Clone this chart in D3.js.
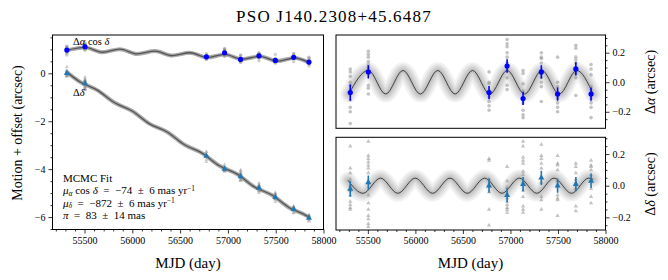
<!DOCTYPE html>
<html>
<head>
<meta charset="utf-8">
<script src="https://cdn.jsdelivr.net/npm/d3@7"></script>
<style>
  body { margin: 0; background: #fff; }
  text { font-family: "Liberation Serif", "DejaVu Serif", serif; fill: #000; }
</style>
</head>
<body>
<div class="root"></div>
<script>
// observation epochs (MJD)
var epochs = [55315, 55505, 56775, 56965, 57133, 57325, 57496, 57688, 57848];

// left panel: motion + offset (arcsec)
var raCos = [0.97, 1.11, 0.69, 0.86, 0.58, 0.73, 0.54, 0.67, 0.47];
var decOff = [0.0, -0.42, -3.45, -3.99, -4.31, -4.79, -5.17, -5.67, -6.04];

// right panels: parallax residuals, epoch means and errors
var raRes = [-0.07, 0.07, -0.07, 0.11, -0.11, 0.07, -0.08, 0.09, -0.08];
var raErr = [0.055, 0.045, 0.045, 0.045, 0.045, 0.045, 0.045, 0.045, 0.045];
var decRes = [-0.02, 0.02, 0.0, -0.06, 0.01, 0.05, 0.0, 0.01, 0.03];
var decErr = [0.05, 0.045, 0.045, 0.045, 0.045, 0.045, 0.045, 0.045, 0.045];

// single detections per epoch
var raSingle = [
  [0.09, 0.07, 0.04, 0.0, -0.02, -0.06, -0.12, -0.17, -0.2, -0.28],
  [0.21, 0.19, 0.17, 0.14, 0.12, 0.10, -0.02, -0.04, -0.08],
  [0.07, 0.0, -0.01, -0.06, -0.10, -0.13, -0.16, -0.19],
  [0.29, 0.26, 0.24, 0.20, 0.17, 0.13, 0.03, -0.02, -0.05],
  [0.08, 0.06, -0.01, -0.06, -0.14, -0.19, -0.22, -0.24],
  [0.20, 0.17, 0.16, 0.13, 0.06, 0.03, 0.0, -0.03, -0.13],
  [0.17, 0.0, -0.03, -0.07, -0.11, -0.14, -0.17, -0.20],
  [0.25, 0.23, 0.17, 0.15, 0.13, 0.06, 0.03, -0.09],
  [0.12, 0.09, 0.05, -0.03, -0.05, -0.11, -0.14, -0.17, -0.24]
];
var decSingle = [
  [0.25, 0.11, 0.08, 0.04, 0.0, -0.03, -0.06, -0.10, -0.12, -0.14, -0.15],
  [0.28, 0.19, 0.17, 0.15, 0.13, 0.11, 0.08, -0.06, -0.11, -0.15, -0.19, -0.21, -0.24, -0.26],
  [0.17, 0.16, 0.04, 0.0, -0.04, -0.15, -0.25],
  [0.12, 0.03, -0.01, -0.05, -0.08, -0.10, -0.12, -0.14, -0.15, -0.17],
  [0.28, 0.25, 0.18, 0.16, 0.14, 0.09, 0.07, 0.02, -0.03, -0.07, -0.13, -0.15, -0.17],
  [0.26, 0.19, 0.17, 0.14, 0.11, 0.02, -0.07, -0.09, -0.15],
  [0.19, 0.14, 0.13, 0.10, 0.03, -0.06, -0.08, -0.09, -0.19],
  [0.14, 0.12, 0.08, 0.04, 0.02, -0.02, -0.13, -0.16],
  [0.16, 0.13, 0.12, 0.10, 0.07, 0.03, -0.02, -0.07, -0.11]
];

// fitted model, read at its turning points
var raFitT = [55315, 55505, 55688, 55870, 56053, 56236, 56418, 56601, 56784, 56966, 57149, 57331, 57514, 57697, 57848];
var raFitV = [0.96, 1.08, 0.88, 1.01, 0.81, 0.93, 0.74, 0.86, 0.66, 0.79, 0.59, 0.71, 0.51, 0.64, 0.45];
var decFitT = [55315, 55450, 55633, 55816, 55998, 56181, 56364, 56546, 56729, 56911, 57094, 57277, 57459, 57642, 57824, 57848];
var decFitV = [0.05, -0.35, -0.70, -1.23, -1.57, -2.11, -2.45, -2.98, -3.33, -3.86, -4.20, -4.74, -5.08, -5.61, -5.95, -6.01];
var raParT = [55300, 55505, 55688, 55870, 56053, 56236, 56418, 56601, 56784, 56966, 57149, 57331, 57514, 57697, 57870];
var raParV = [-0.08, 0.08, -0.08, 0.08, -0.08, 0.08, -0.08, 0.08, -0.08, 0.08, -0.08, 0.08, -0.08, 0.08, -0.08];
var decParT = [55290, 55450, 55633, 55816, 55998, 56181, 56364, 56546, 56729, 56911, 57094, 57277, 57459, 57642, 57824, 57870];
var decParV = [0.035, -0.048, 0.048, -0.048, 0.048, -0.048, 0.048, -0.048, 0.048, -0.048, 0.048, -0.048, 0.048, -0.048, 0.048, 0.04];

var xMajor = [55500, 56000, 56500, 57000, 57500, 58000];
var yLeftMajor = [-6, -4, -2, 0];
var yRightMajor = [-0.2, 0.0, 0.2];

var BLUE = '#0000ff', TAB = '#1f77b4';
var SP = '\u2002';  // wide space, like TeX around = and ±

function runChart() {
  var svg = d3.select('.root').append('svg')
    .attr('width', 668)
    .attr('height', 280);

  var xL = d3.scaleLinear().domain([55165, 58000]).range([52.5, 323.5]);
  var yL = d3.scaleLinear().domain([-6.52, 1.6]).range([229.5, 35]);
  var xR = d3.scaleLinear().domain([55165, 58000]).range([336, 605.5]);
  var yA = d3.scaleLinear().domain([-0.312, 0.32]).range([128.3, 35]);
  var yD = d3.scaleLinear().domain([-0.28, 0.306]).range([230, 137.3]);

  var xMinor = d3.range(55200, 58001, 100).filter(function(d) { return xMajor.indexOf(d) < 0; });

  function zip(t, v) { return t.map(function(d, i) { return [d, v[i]]; }); }

  function line(x, y) {
    return d3.line()
      .x(function(d) { return x(d[0]); })
      .y(function(d) { return y(d[1]); })
      .curve(d3.curveMonotoneX);
  }

  function tickAxis(g, axisFn, scale, vals, len, fmt) {
    var a = axisFn(scale).tickValues(vals).tickSize(len).tickSizeOuter(0).tickPadding(3);
    a.tickFormat(fmt || function() { return ''; });
    g.call(a);
    g.select('.domain').remove();
    g.selectAll('line').attr('stroke', '#000').attr('stroke-width', 0.8);
    g.selectAll('text').attr('fill', '#000').style('font-size', '10px')
      .style('font-family', '"Liberation Serif", serif');
  }

  function frame(x, y) {
    svg.append('rect')
      .attr('x', x.range()[0]).attr('y', y.range()[1])
      .attr('width', x.range()[1] - x.range()[0])
      .attr('height', y.range()[0] - y.range()[1])
      .attr('fill', 'none').attr('stroke', '#000').attr('stroke-width', 1);
  }

  function clip(id, x, y) {
    svg.append('clipPath').attr('id', id).append('rect')
      .attr('x', x.range()[0]).attr('y', y.range()[1])
      .attr('width', x.range()[1] - x.range()[0])
      .attr('height', y.range()[0] - y.range()[1]);
    return svg.append('g').attr('clip-path', 'url(#' + id + ')');
  }

  function rich(g, x, y, size, parts) {
    var t = g.append('text').attr('x', x).attr('y', y).style('font-size', size + 'px');
    parts.forEach(function(p) {
      var s = t.append('tspan').text(p.t);
      if (p.i) s.style('font-style', 'italic');
      if (p.s) s.style('font-size', p.s + 'px');
      if (p.dy) s.attr('dy', p.dy);
    });
    return t;
  }

  // ---------- left panel ----------
  var gl = clip('clipL', xL, yL);

  [[raFitT, raFitV], [decFitT, decFitV]].forEach(function(m) {
    var pts = zip(m[0], m[1]);
    gl.append('path').datum(pts).attr('d', line(xL, yL))
      .attr('fill', 'none').attr('stroke', '#aaa').attr('stroke-width', 4);
    gl.append('path').datum(pts).attr('d', line(xL, yL))
      .attr('fill', 'none').attr('stroke', '#555').attr('stroke-width', 1.3);
  });

  epochs.forEach(function(t, i) {
    raSingle[i].forEach(function(v) {
      gl.append('circle').attr('cx', xL(t)).attr('cy', yL(raCos[i] + v - raRes[i]))
        .attr('r', 1.7).attr('fill', '#888').attr('opacity', 0.4);
    });
    decSingle[i].forEach(function(v) {
      gl.append('path').attr('d', d3.symbol(d3.symbolTriangle, 7)())
        .attr('transform', 'translate(' + xL(t) + ',' + yL(decOff[i] + v - decRes[i]) + ')')
        .attr('fill', '#888').attr('opacity', 0.4);
    });
  });

  gl.selectAll('circle.pa').data(epochs).enter().append('circle')
    .attr('cx', function(d) { return xL(d); })
    .attr('cy', function(d, i) { return yL(raCos[i]); })
    .attr('r', 2.6).attr('fill', BLUE);
  gl.selectAll('path.pd').data(epochs).enter().append('path')
    .attr('d', d3.symbol(d3.symbolTriangle, 16)())
    .attr('transform', function(d, i) { return 'translate(' + xL(d) + ',' + yL(decOff[i]) + ')'; })
    .attr('fill', TAB);

  frame(xL, yL);
  tickAxis(svg.append('g').attr('transform', 'translate(0,229.5)'), d3.axisBottom, xL, xMajor, 4, d3.format('d'));
  tickAxis(svg.append('g').attr('transform', 'translate(0,229.5)'), d3.axisBottom, xL, xMinor, 2);
  tickAxis(svg.append('g').attr('transform', 'translate(52.5,0)'), d3.axisLeft, yL, yLeftMajor, 4, d3.format('d'));
  tickAxis(svg.append('g').attr('transform', 'translate(52.5,0)'), d3.axisLeft, yL,
    d3.range(-6.5, 1.6, 0.5).filter(function(d) { return d % 2 !== 0; }), 2);

  rich(svg, 73, 45, 10.5, [{t: 'Δ'}, {t: 'α', i: 1}, {t: ' cos '}, {t: 'δ', i: 1}]);
  rich(svg, 73, 96, 10.5, [{t: 'Δ'}, {t: 'δ', i: 1}]);

  var info = svg.append('g');
  rich(info, 63, 181.5, 11, [{t: 'MCMC Fit'}]);
  rich(info, 63, 194, 11, [{t: 'μ', i: 1}, {t: 'α', i: 1, s: 7.5, dy: 1.5}, {t: ' cos ', dy: -1.5}, {t: 'δ', i: 1},
    {t: SP + '=' + SP + '−74' + SP + '±' + SP + '6 mas yr'}, {t: '−1', s: 7.5, dy: -3.5}]);
  rich(info, 63, 206.5, 11, [{t: 'μ', i: 1}, {t: 'δ', i: 1, s: 7.5, dy: 1.5},
    {t: SP + '=' + SP + '−872' + SP + '±' + SP + '6 mas yr', dy: -1.5}, {t: '−1', s: 7.5, dy: -3.5}]);
  rich(info, 63, 219, 11, [{t: 'π', i: 1}, {t: SP + '=' + SP + '83' + SP + '±' + SP + '14 mas'}]);

  // ---------- right panels ----------
  function residualPanel(id, y, parT, parV, single, mean, err, color, tri) {
    var g = clip(id, xR, y);
    var pts = zip(parT, parV);
    [17, 13, 9.5, 6.5, 3.5].forEach(function(w) {
      g.append('path').datum(pts).attr('d', line(xR, y))
        .attr('fill', 'none').attr('stroke', '#000').attr('stroke-width', w)
        .attr('stroke-opacity', 0.05).attr('stroke-linecap', 'round');
    });
    g.append('path').datum(pts).attr('d', line(xR, y))
      .attr('fill', 'none').attr('stroke', '#222').attr('stroke-width', 1)
      .attr('stroke-opacity', 0.8);

    epochs.forEach(function(t, i) {
      single[i].forEach(function(v) {
        if (tri) {
          g.append('path').attr('d', d3.symbol(d3.symbolTriangle, 8)())
            .attr('transform', 'translate(' + xR(t) + ',' + y(v) + ')')
            .attr('fill', '#888').attr('opacity', 0.5);
        } else {
          g.append('circle').attr('cx', xR(t)).attr('cy', y(v))
            .attr('r', 1.8).attr('fill', '#888').attr('opacity', 0.5);
        }
      });
    });

    g.selectAll('line.err').data(epochs).enter().append('line')
      .attr('x1', function(d) { return xR(d); }).attr('x2', function(d) { return xR(d); })
      .attr('y1', function(d, i) { return y(mean[i] - err[i]); })
      .attr('y2', function(d, i) { return y(mean[i] + err[i]); })
      .attr('stroke', color).attr('stroke-width', 1.6);
    if (tri) {
      g.selectAll('path.mk').data(epochs).enter().append('path')
        .attr('d', d3.symbol(d3.symbolTriangle, 16)())
        .attr('transform', function(d, i) { return 'translate(' + xR(d) + ',' + y(mean[i]) + ')'; })
        .attr('fill', color);
    } else {
      g.selectAll('circle.mk').data(epochs).enter().append('circle')
        .attr('cx', function(d) { return xR(d); })
        .attr('cy', function(d, i) { return y(mean[i]); })
        .attr('r', 2.6).attr('fill', color);
    }

    frame(xR, y);
    tickAxis(svg.append('g').attr('transform', 'translate(605.5,0)'), d3.axisRight, y, yRightMajor, 4, d3.format('.1f'));
    tickAxis(svg.append('g').attr('transform', 'translate(605.5,0)'), d3.axisRight, y,
      [-0.25, -0.15, -0.1, -0.05, 0.05, 0.1, 0.15, 0.25, 0.3].filter(function(d) {
        return d >= y.domain()[0] && d <= y.domain()[1];
      }), 2);
  }

  residualPanel('clipA', yA, raParT, raParV, raSingle, raRes, raErr, BLUE, false);
  residualPanel('clipD', yD, decParT, decParV, decSingle, decRes, decErr, TAB, true);

  tickAxis(svg.append('g').attr('transform', 'translate(0,230)'), d3.axisBottom, xR, xMajor, 4, d3.format('d'));
  tickAxis(svg.append('g').attr('transform', 'translate(0,230)'), d3.axisBottom, xR, xMinor, 2);

  // ---------- labels ----------
  svg.append('text').attr('x', 334).attr('y', 21.5).attr('text-anchor', 'middle')
    .style('font-size', '17px').style('letter-spacing', '1.2px').text('PSO J140.2308+45.6487');

  svg.append('text').attr('x', 188).attr('y', 268).attr('text-anchor', 'middle')
    .style('font-size', '15px').text('MJD (day)');
  svg.append('text').attr('x', 470.5).attr('y', 268).attr('text-anchor', 'middle')
    .style('font-size', '15px').text('MJD (day)');

  svg.append('text').attr('transform', 'translate(22,133) rotate(-90)').attr('text-anchor', 'middle')
    .style('font-size', '14px').text('Motion + offset (arcsec)');

  rich(svg, 0, 0, 14, [{t: 'Δ'}, {t: 'α', i: 1}, {t: ' (arcsec)'}])
    .attr('text-anchor', 'middle').attr('transform', 'translate(655,82) rotate(-90)');
  rich(svg, 0, 0, 14, [{t: 'Δ'}, {t: 'δ', i: 1}, {t: ' (arcsec)'}])
    .attr('text-anchor', 'middle').attr('transform', 'translate(655,184) rotate(-90)');
}

window.onload = function() {
  runChart();
};
</script>
</body>
</html>
